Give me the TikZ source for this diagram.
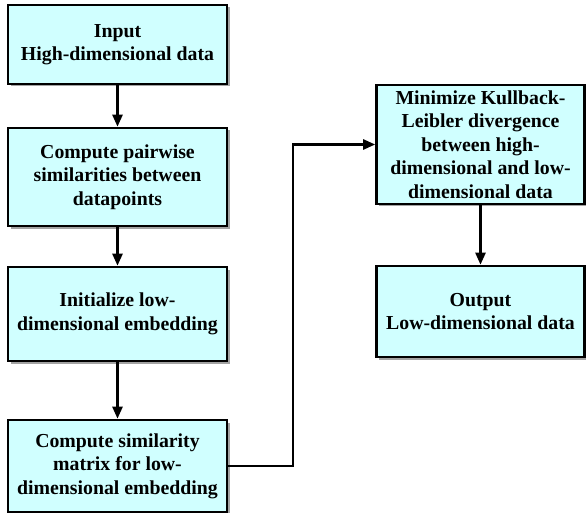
\documentclass[tikz,border=0pt]{standalone}
\usepackage{fontspec}
\setmainfont{Liberation Serif}
\usetikzlibrary{arrows.meta,shadows}
\definecolor{boxfill}{RGB}{208,255,255}
\tikzset{
  flowbox/.style={draw=black, line width=2.6pt, fill=boxfill, align=center,
    font=\fontsize{19.8}{23.5}\selectfont\bfseries, inner sep=0pt,
    drop shadow={shadow xshift=2.5pt, shadow yshift=-2.5pt, fill=black!45, opacity=0.8}},
  flowarrow/.style={line width=2.4pt, -{Triangle[length=12pt,width=10pt]}}
}
\begin{document}
\begin{tikzpicture}[x=1pt,y=-1pt]
\useasboundingbox (0,0) rectangle (586,513);
\node[flowbox, minimum width=219pt, minimum height=79pt] (b1) at (117.5,44.5)
  {Input\\High-dimensional data};
\node[flowbox, minimum width=219pt, minimum height=98pt] (b2) at (117.5,177)
  {Compute pairwise\\similarities between\\datapoints};
\node[flowbox, minimum width=219pt, minimum height=94pt] (b3) at (117.5,314)
  {Initialize low-\\dimensional embedding};
\node[flowbox, minimum width=219pt, minimum height=92pt] (b4) at (117.5,466)
  {Compute similarity\\matrix for low-\\dimensional embedding};
\node[flowbox, minimum width=208pt, minimum height=119pt] (b5) at (480.5,144.5)
  {Minimize Kullback-\\Leibler divergence\\between high-\\dimensional and low-\\dimensional data};
\node[flowbox, minimum width=208pt, minimum height=91pt] (b6) at (480.5,311.5)
  {Output\\Low-dimensional data};
\coordinate (j) at (293,300);
\draw[flowarrow] (b1) -- (b2);
\draw[flowarrow] (b2) -- (b3);
\draw[flowarrow] (b3) -- (b4);
\draw[flowarrow] (b4.east) -| (j) |- (b5.west);
\draw[flowarrow] (b5) -- (b6);
\end{tikzpicture}
\end{document}
